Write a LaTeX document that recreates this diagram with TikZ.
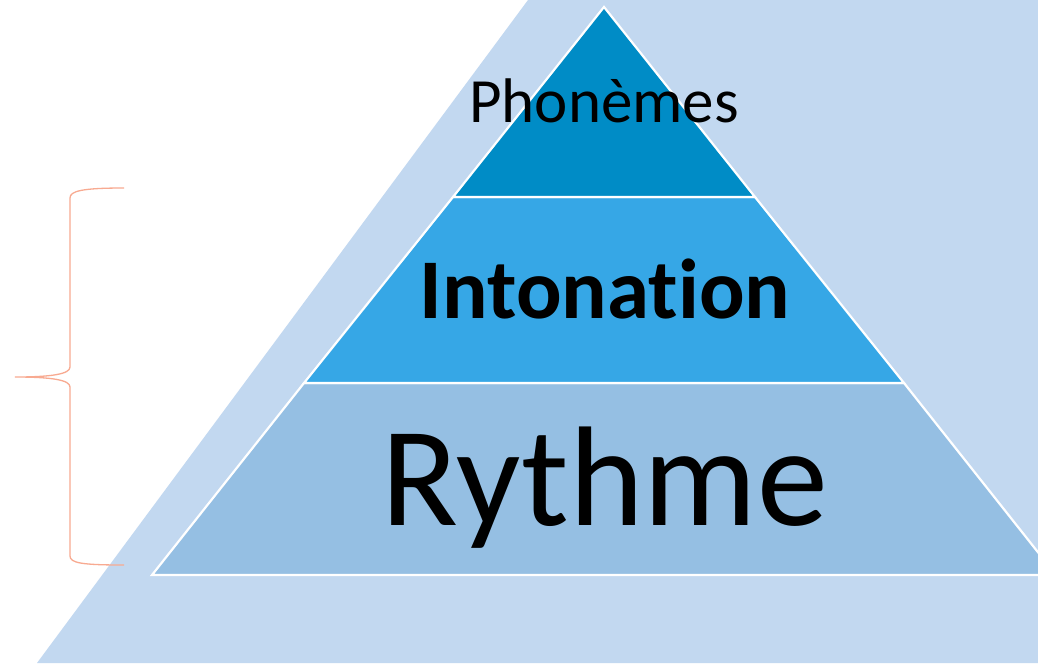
\documentclass[tikz,border=0pt]{standalone}
\usepackage{fontspec}
\setmainfont[Ligatures={NoCommon}]{Carlito}
\definecolor{bgblue}{RGB}{194,216,240}
\definecolor{topblue}{RGB}{0,140,198}
\definecolor{midblue}{RGB}{54,167,230}
\definecolor{lowblue}{RGB}{149,191,227}
\definecolor{bracecol}{RGB}{248,170,145}
\tikzset{
  layer/.style={draw=white, line width=2.2pt, line join=miter},
  label/.style={anchor=base, inner sep=0pt, text=black},
}
\begin{document}
\begin{tikzpicture}[x=1pt, y=-1pt]
  \useasboundingbox (0,0) rectangle (1038,665);
  \fill[white] (0,0) rectangle (1038,665);
  \begin{scope}
    \clip (0,0) rectangle (1038,665);
    % backdrop slab
    \fill[bgblue] (37,663) -- (528,0) -- (1040,0) -- (1040,663) -- cycle;
    % pyramid layers
    \coordinate (apex) at (604,7);
    \filldraw[layer, fill=lowblue] (152,575) -- (1056,575) -- (904,383) -- (304,383) -- cycle;
    \filldraw[layer, fill=midblue] (304,383) -- (904,383) -- (755,197) -- (453,197) -- cycle;
    \filldraw[layer, fill=topblue] (453,197) -- (755,197) -- (apex) -- cycle;
  \end{scope}
  % layer labels
  \node[label, font=\fontsize{63}{63}\selectfont] (pho) at (604,122) {Phonèmes};
  \node[label, font=\fontsize{85}{85}\selectfont\bfseries] (into) at (605,318) {Intonation};
  \node[label, font=\fontsize{142}{142}\selectfont] (ryth) at (605,525) {Rythme};
  % curly brace
  \draw[bracecol, line width=1.3pt]
    (124,188) .. controls (82,188) and (70,191) .. (70,198)
    -- (70,367) .. controls (70,374) and (52,377) .. (15,377)
    .. controls (52,377) and (70,380) .. (70,387)
    -- (70,556) .. controls (70,563) and (82,565) .. (124,565);
\end{tikzpicture}
\end{document}
